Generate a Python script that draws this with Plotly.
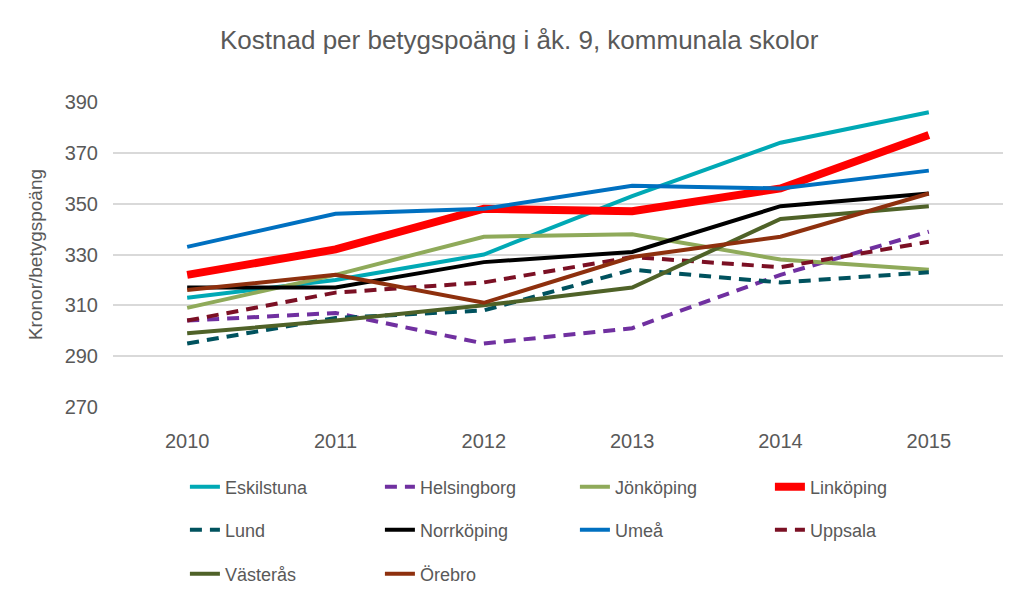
import plotly.graph_objects as go

years = ["2010", "2011", "2012", "2013", "2014", "2015"]

eskilstuna = [313, 320, 330, 353, 374, 386]
helsingborg = [304, 307, 295, 301, 322, 339]
jonkoping = [309, 322, 337, 338, 328, 324]
linkoping = [322, 332, 348, 347, 356, 377]
lund = [295, 305, 308, 324, 319, 323]
norrkoping = [317, 317, 327, 331, 349, 354]
umea = [333, 346, 348, 357, 356, 363]
uppsala = [304, 315, 319, 329, 325, 335]
vasteras = [299, 304, 310, 317, 344, 349]
orebro = [316, 322, 311, 329, 337, 354]

series = [
    ("Eskilstuna", eskilstuna, "#00A9B5", 4, "solid", "legend"),
    ("Helsingborg", helsingborg, "#7030A0", 4, "12px,8px", "legend"),
    ("Jönköping", jonkoping, "#8FAA5A", 4, "solid", "legend"),
    ("Linköping", linkoping, "#FF0000", 8, "solid", "legend"),
    ("Lund", lund, "#00525E", 4, "12px,8px", "legend2"),
    ("Norrköping", norrkoping, "#000000", 4, "solid", "legend2"),
    ("Umeå", umea, "#0070C0", 4, "solid", "legend2"),
    ("Uppsala", uppsala, "#7B1024", 4, "12px,8px", "legend2"),
    ("Västerås", vasteras, "#4F6228", 4, "solid", "legend3"),
    ("Örebro", orebro, "#8E300E", 4, "solid", "legend3"),
]

fig = go.Figure()
for name, vals, color, width, dash, leg in series:
    fig.add_trace(go.Scatter(
        x=years, y=vals, name=name, mode="lines",
        line=dict(color=color, width=width, dash=dash),
        legend=leg,
    ))

font_family = "Liberation Sans, Arial, sans-serif"
txt = "#595959"

def legend_cfg(ypix):
    return dict(
        orientation="h", xref="container", yref="container",
        x=0.182, y=1 - ypix / 603, xanchor="left", yanchor="middle",
        entrywidth=150, entrywidthmode="pixels",
        font=dict(family=font_family, size=18, color=txt),
        bgcolor="rgba(0,0,0,0)", itemwidth=30, traceorder="normal",
    )

fig.update_layout(
    width=1016, height=603,
    paper_bgcolor="white", plot_bgcolor="white",
    margin=dict(l=113, r=13, t=102, b=196),
    font=dict(family=font_family, color=txt),
    title=dict(
        text="Kostnad per betygspoäng i åk. 9, kommunala skolor",
        x=0.511, xanchor="center", y=1 - 40 / 603, yanchor="middle",
        xref="container", yref="container",
        font=dict(family=font_family, size=26, color=txt),
    ),
    xaxis=dict(
        type="category", range=[-0.5, 5.5], automargin=False,
        showgrid=False, showline=False, zeroline=False,
        tickfont=dict(family=font_family, size=20, color=txt),
        ticklabelstandoff=20,
    ),
    yaxis=dict(
        range=[270, 390], tickmode="array", automargin=False,
        tickvals=[270, 290, 310, 330, 350, 370, 390],
        showgrid=True, gridcolor="#D9D9D9", gridwidth=1.5,
        zeroline=False, showline=False,
        tickfont=dict(family=font_family, size=20, color=txt),
        ticklabelstandoff=14,
        title=dict(text="Kronor/betygspoäng", standoff=16,
                   font=dict(family=font_family, size=19, color=txt)),
    ),
    legend=legend_cfg(487),
    legend2=legend_cfg(530),
    legend3=legend_cfg(574),
)

fig.write_html(
    "out.html",
    config={"displayModeBar": False},
    post_script="document.body.style.margin='0';document.body.style.overflow='hidden';",
)
